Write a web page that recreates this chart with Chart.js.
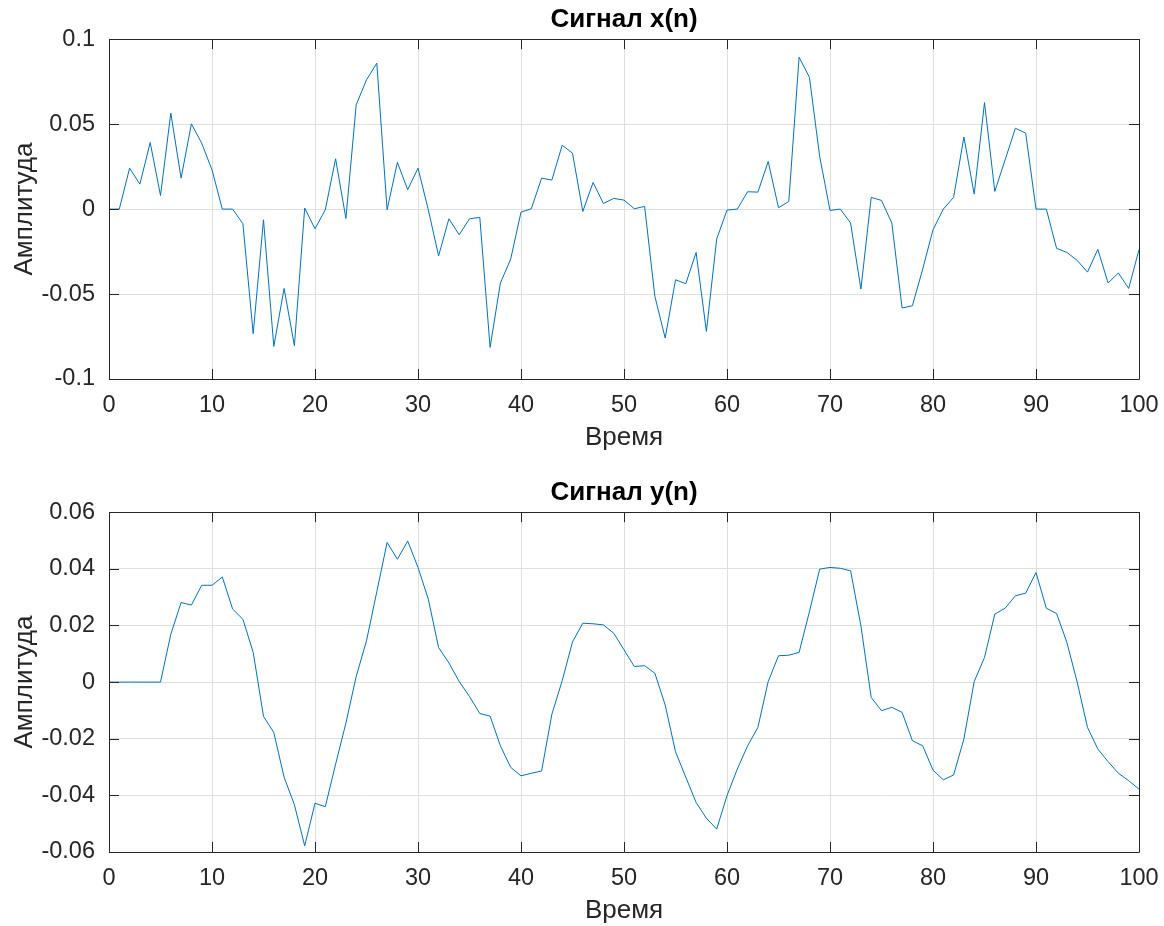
<!DOCTYPE html>
<html>
<head>
<meta charset="utf-8">
<script src="https://cdn.jsdelivr.net/npm/chart.js"></script>
<style>
  body { margin: 0; background: #fff; }
  #wrap { position: relative; width: 1164px; height: 926px; }
  #c1 { position: absolute; left: 0; top: 0; }
  #c2 { position: absolute; left: 0; top: 453px; }
</style>
</head>
<body>
<div id="wrap">
  <canvas id="c1" width="1164" height="453"></canvas>
  <canvas id="c2" width="1164" height="473"></canvas>
</div>
<script>
// sample index n
const samples = [0,1,2,3,4,5,6,7,8,9,10,11,12,13,14,15,16,17,18,19,20,
  21,22,23,24,25,26,27,28,29,30,31,32,33,34,35,36,37,38,39,40,
  41,42,43,44,45,46,47,48,49,50,51,52,53,54,55,56,57,58,59,60,
  61,62,63,64,65,66,67,68,69,70,71,72,73,74,75,76,77,78,79,80,
  81,82,83,84,85,86,87,88,89,90,91,92,93,94,95,96,97,98,99,100];

// input signal x(n)
const xSignal = [0, 0, 0.0241, 0.0147, 0.0392, 0.008, 0.0565, 0.0182, 0.0502, 0.0388,
  0.0231, 0, 0, -0.0086, -0.0733, -0.0063, -0.0808, -0.0467, -0.0804, 0.0006,
  -0.0116, -0.0004, 0.0296, -0.0055, 0.0614, 0.0761, 0.0859, -0.0004, 0.0275, 0.0114,
  0.0241, -0.0004, -0.0275, -0.0057, -0.0151, -0.0057, -0.0049, -0.0814, -0.0435, -0.0294,
  -0.0018, 0.0002, 0.0182, 0.0171, 0.0376, 0.0329, -0.0014, 0.0157, 0.0033, 0.0063,
  0.0053, 0.0002, 0.0016, -0.0514, -0.0759, -0.0416, -0.0439, -0.0255, -0.072, -0.0176,
  -0.0006, 0, 0.0102, 0.01, 0.028, 0.0008, 0.0045, 0.0894, 0.0776, 0.031,
  -0.0008, 0, -0.0082, -0.0471, 0.0069, 0.0051, -0.0082, -0.0582, -0.0569, -0.0353,
  -0.0122, 0, 0.0069, 0.0424, 0.0088, 0.0627, 0.0104, 0.029, 0.0476, 0.0447,
  0, 0, -0.0231, -0.0255, -0.0302, -0.0371, -0.0237, -0.0435, -0.0376, -0.0467,
  -0.0239];

// output signal y(n)
const ySignal = [0, 0, 0, 0, 0, 0, 0.0169, 0.0281, 0.0272, 0.0342,
  0.0342, 0.0371, 0.0258, 0.0222, 0.0105, -0.0121, -0.0178, -0.0336, -0.0433, -0.0578,
  -0.0428, -0.044, -0.029, -0.0145, 0.002, 0.0146, 0.0319, 0.0493, 0.0434, 0.0498,
  0.0405, 0.0293, 0.0122, 0.0068, 0.0002, -0.0051, -0.0111, -0.012, -0.0225, -0.0301,
  -0.0331, -0.0322, -0.0314, -0.0113, 0.0005, 0.0142, 0.0208, 0.0206, 0.0202, 0.0173,
  0.0114, 0.0055, 0.0058, 0.0031, -0.0081, -0.0246, -0.0336, -0.0425, -0.0481, -0.0519,
  -0.0401, -0.0307, -0.0225, -0.016, 0.0002, 0.0093, 0.0095, 0.0105, 0.0248, 0.0399,
  0.0405, 0.0402, 0.0393, 0.0199, -0.0054, -0.0101, -0.0089, -0.0107, -0.0207, -0.0225,
  -0.0311, -0.0345, -0.0328, -0.0201, 0.0002, 0.0087, 0.024, 0.0261, 0.0305, 0.0314,
  0.0387, 0.0261, 0.0242, 0.014, 0, -0.016, -0.0236, -0.0281, -0.0322, -0.0348,
  -0.0378];

const xTicks = [0, 10, 20, 30, 40, 50, 60, 70, 80, 90, 100];
const topYTicks = [-0.1, -0.05, 0, 0.05, 0.1];
const bottomYTicks = [-0.06, -0.04, -0.02, 0, 0.02, 0.04, 0.06];

Chart.defaults.font.family = "'Liberation Sans', Arial, sans-serif";
Chart.defaults.font.size = 23.5;
Chart.defaults.color = '#262626';

// MATLAB style box with inward tick marks
const axesBox = {
  id: 'axesBox',
  afterDraw(chart) {
    const ctx = chart.ctx;
    const a = chart.chartArea;
    const xs = chart.scales.x, ys = chart.scales.y;
    ctx.save();
    ctx.strokeStyle = '#262626';
    ctx.lineWidth = 1;
    ctx.beginPath();
    ctx.rect(Math.round(a.left) + 0.5, Math.round(a.top) + 0.5,
      Math.round(a.right - a.left), Math.round(a.bottom - a.top));
    xs.ticks.forEach(t => {
      const px = Math.round(xs.getPixelForValue(t.value)) + 0.5;
      ctx.moveTo(px, a.bottom); ctx.lineTo(px, a.bottom - 10);
      ctx.moveTo(px, a.top); ctx.lineTo(px, a.top + 10);
    });
    ys.ticks.forEach(t => {
      const py = Math.round(ys.getPixelForValue(t.value)) + 0.5;
      ctx.moveTo(a.left, py); ctx.lineTo(a.left + 10, py);
      ctx.moveTo(a.right, py); ctx.lineTo(a.right - 10, py);
    });
    ctx.stroke();
    ctx.restore();
  }
};

function makeChart(canvasId, title, values, yTicks, titlePad) {
  const yMin = yTicks[0], yMax = yTicks[yTicks.length - 1];
  return new Chart(document.getElementById(canvasId), {
    type: 'line',
    data: {
      labels: samples,
      datasets: [{
        data: values,
        borderColor: '#0072bd',
        borderWidth: 1,
        pointRadius: 0,
        tension: 0,
        fill: false
      }]
    },
    options: {
      responsive: false,
      animation: false,
      devicePixelRatio: 1,
      layout: { padding: { left: 0, right: 25, top: 0, bottom: 0 } },
      plugins: {
        legend: { display: false },
        tooltip: { enabled: false },
        title: {
          display: true,
          fullSize: false,
          text: title,
          color: '#000',
          font: { size: 26, weight: 'bold' },
          padding: titlePad
        }
      },
      scales: {
        x: {
          type: 'linear',
          min: 0, max: 100,
          afterBuildTicks: s => { s.ticks = xTicks.map(v => ({ value: v })); },
          afterFit: s => { s.height = 74; s.paddingLeft = 0; s.paddingRight = 0; },
          grid: { color: '#dfdfdf', drawTicks: false },
          border: { display: false },
          ticks: { padding: 12, maxRotation: 0 },
          title: { display: true, text: 'Время', font: { size: 26 }, padding: { top: 0, bottom: 0 } }
        },
        y: {
          min: yMin, max: yMax,
          afterBuildTicks: s => { s.ticks = yTicks.map(v => ({ value: v })); },
          afterFit: s => { s.width = 109; },
          grid: { color: '#dfdfdf', drawTicks: false },
          border: { display: false },
          ticks: {
            padding: 14,
            callback: v => String(Number(v.toFixed(3)))
          },
          title: { display: true, text: 'Амплитуда', font: { size: 26 }, padding: { top: 9, bottom: 0 } }
        }
      }
    },
    plugins: [axesBox]
  });
}

makeChart('c1', 'Сигнал x(n)', xSignal, topYTicks, { top: 4, bottom: 4 });
makeChart('c2', 'Сигнал y(n)', ySignal, bottomYTicks, { top: 24, bottom: 4 });
</script>
</body>
</html>
